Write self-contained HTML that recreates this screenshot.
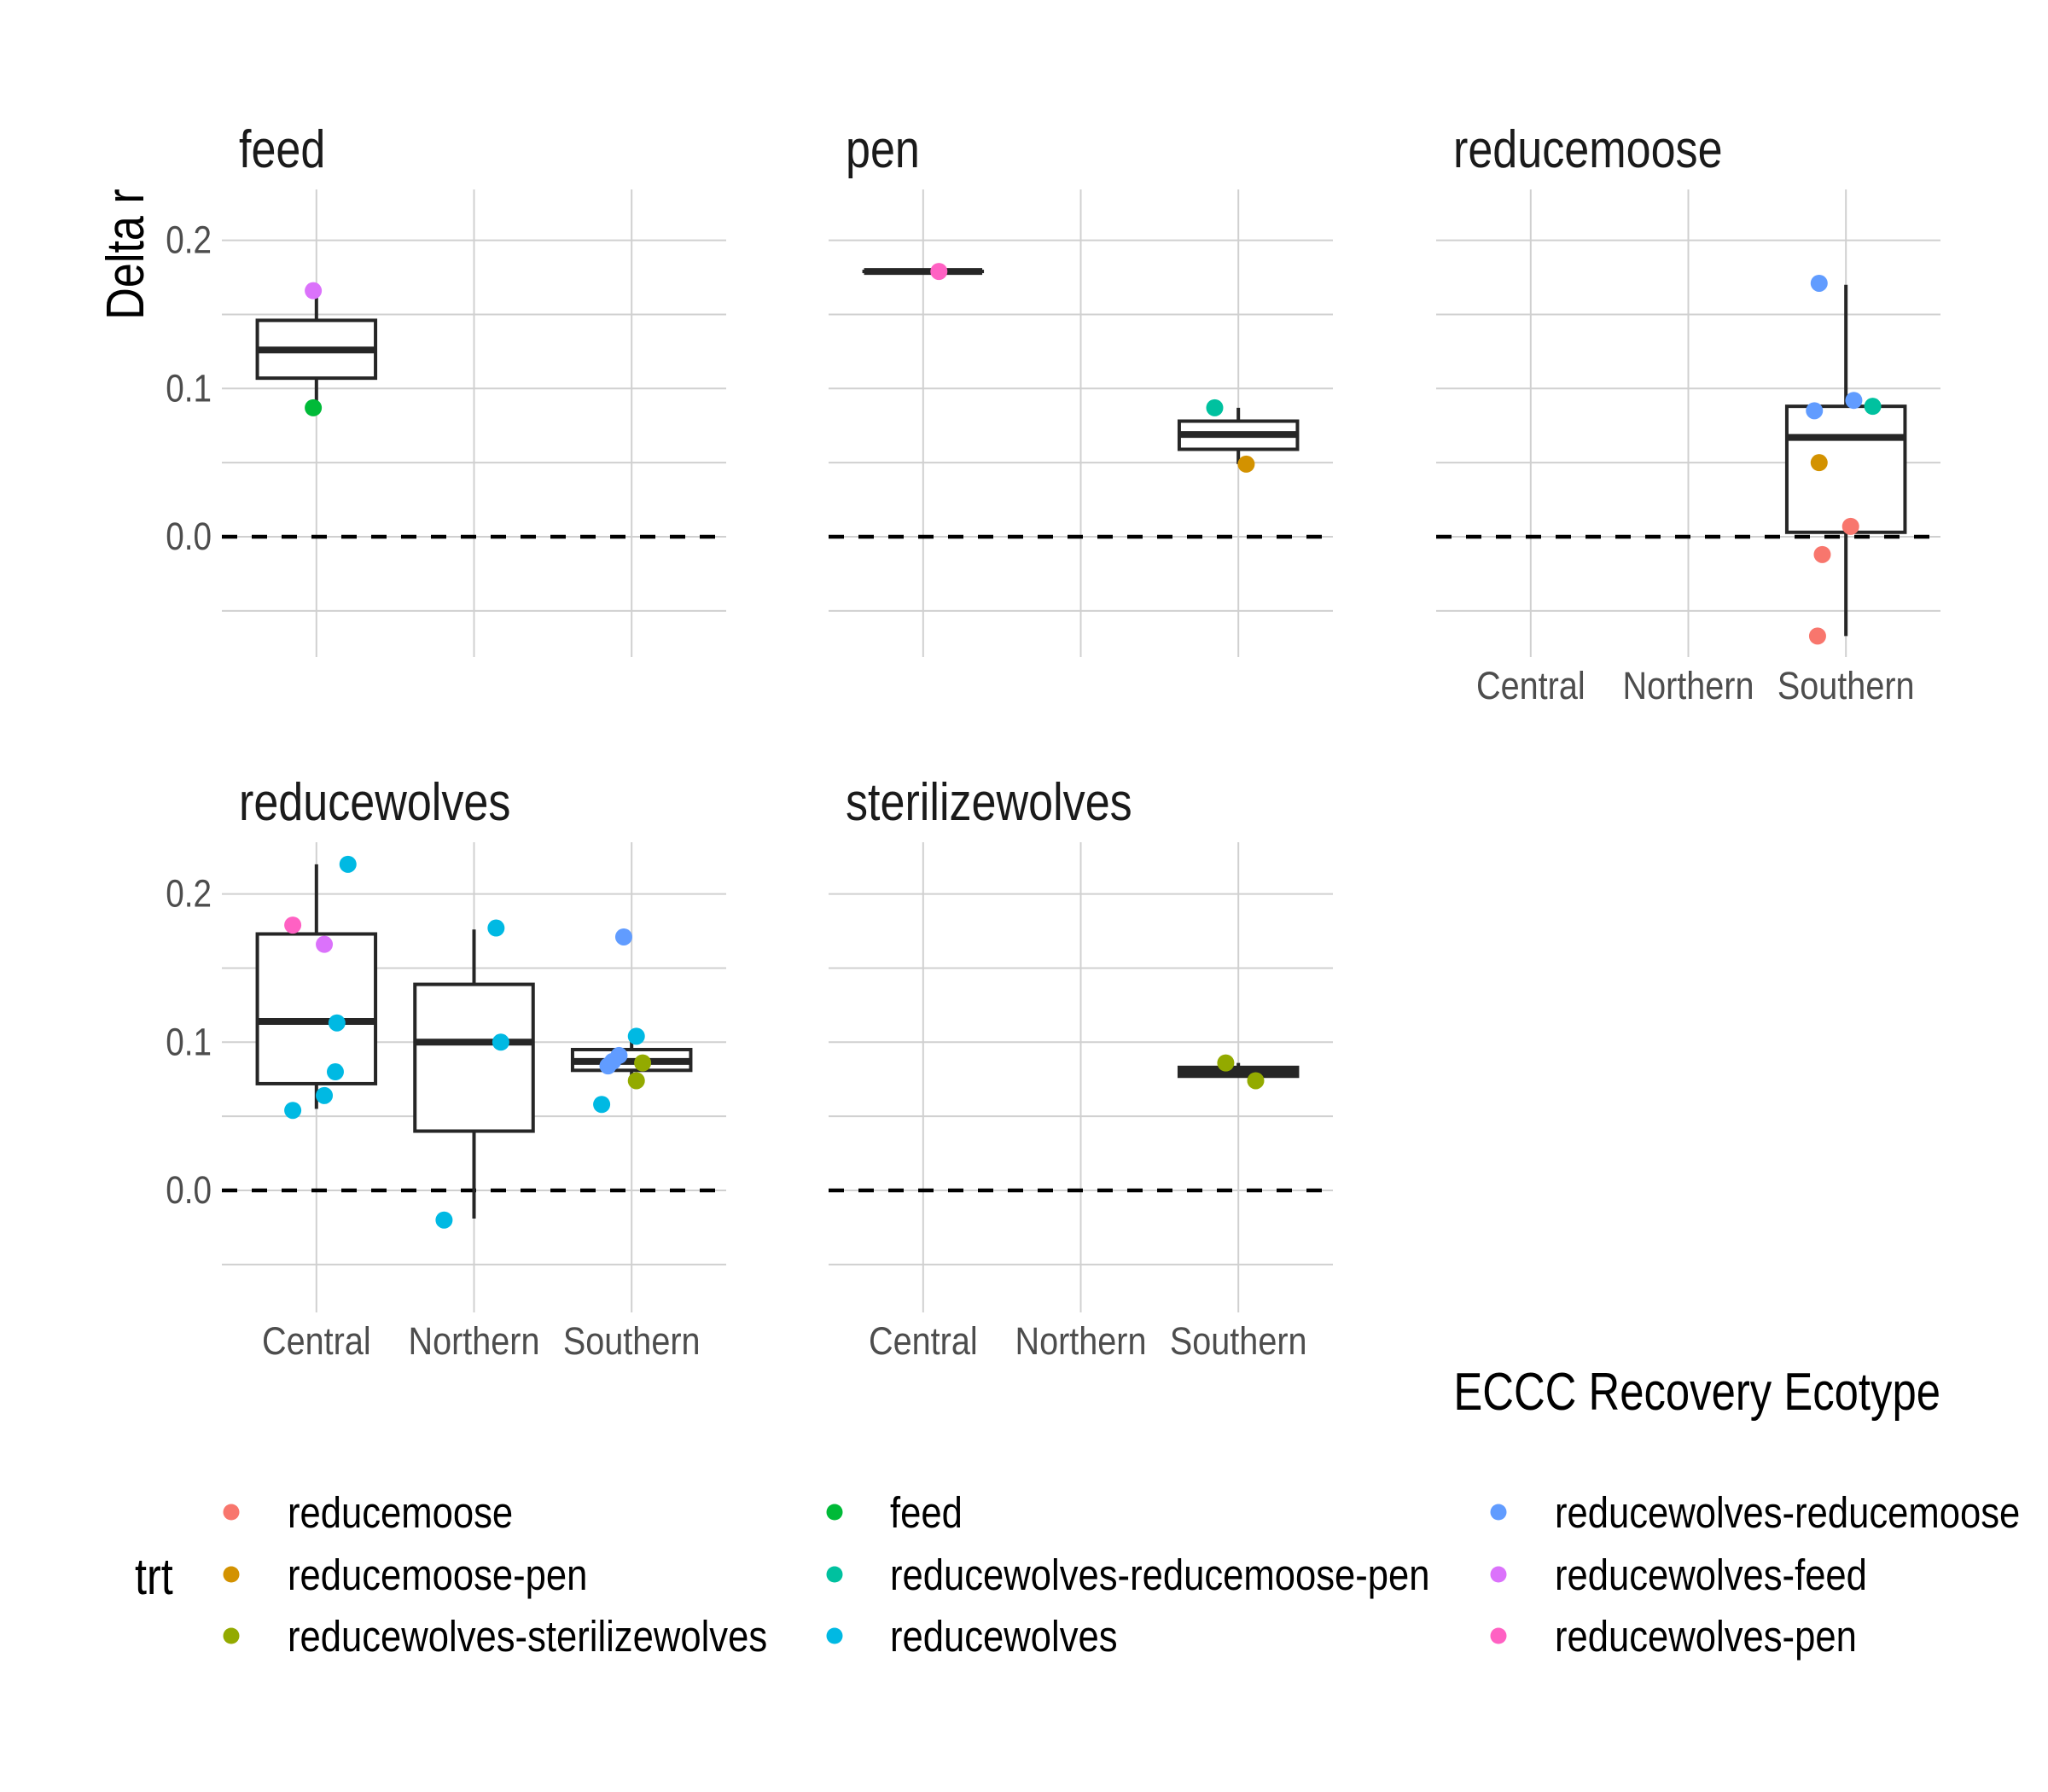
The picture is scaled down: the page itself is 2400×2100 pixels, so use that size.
<!DOCTYPE html>
<html><head><meta charset="utf-8">
<style>
html,body{margin:0;padding:0;background:#fff;}
svg{display:block;font-family:"Liberation Sans Narrow","Liberation Sans",sans-serif;}
</style></head>
<body>
<svg id="chart" width="2400" height="2100" viewBox="0 0 2400 2100" xmlns="http://www.w3.org/2000/svg">
<rect width="2400" height="2100" fill="#fff"/>
</svg>
<script>
// ---- data ----
const categories = ["Central","Northern","Southern"];
const panels = ["feed","pen","reducemoose","reducewolves","sterilizewolves"];
const yTicks = [0.0,0.1,0.2];
const yTickLabels = ["0.0","0.1","0.2"];
const treatments = ["reducemoose","reducemoose-pen","reducewolves-sterilizewolves","feed","reducewolves-reducemoose-pen","reducewolves","reducewolves-reducemoose","reducewolves-feed","reducewolves-pen"];
const trtColors = ["#F8766D","#D39200","#93AA00","#00BA38","#00C19F","#00B9E3","#619CFF","#DB72FB","#FF61C3"];
// boxes
const boxPanel = ["feed","pen","pen","reducemoose","reducewolves","reducewolves","reducewolves","sterilizewolves"];
const boxCat = ["Central","Central","Southern","Southern","Central","Northern","Southern","Southern"];
const boxLow = [0.087,0.179,0.049,-0.067,0.055,-0.019,0.074,0.076];
const boxQ1 = [0.107,0.179,0.059,0.003,0.072,0.040,0.081,0.077];
const boxMed = [0.126,0.179,0.069,0.067,0.114,0.100,0.087,0.080];
const boxQ3 = [0.146,0.179,0.078,0.088,0.173,0.139,0.095,0.083];
const boxHigh = [0.166,0.179,0.087,0.170,0.220,0.176,0.104,0.086];
// points
const ptPanel = ["feed","feed","pen","pen","pen",
 "reducemoose","reducemoose","reducemoose","reducemoose","reducemoose","reducemoose","reducemoose","reducemoose",
 "reducewolves","reducewolves","reducewolves","reducewolves","reducewolves","reducewolves","reducewolves",
 "reducewolves","reducewolves","reducewolves",
 "reducewolves","reducewolves","reducewolves","reducewolves","reducewolves","reducewolves","reducewolves","reducewolves",
 "sterilizewolves","sterilizewolves"];
const ptCat = ["Central","Central","Central","Southern","Southern",
 "Southern","Southern","Southern","Southern","Southern","Southern","Southern","Southern",
 "Central","Central","Central","Central","Central","Central","Central",
 "Northern","Northern","Northern",
 "Southern","Southern","Southern","Southern","Southern","Southern","Southern","Southern",
 "Southern","Southern"];
const ptJitter = [-0.02,-0.02,0.1,-0.15,0.05,
 -0.17,-0.2,0.05,0.17,-0.17,0.03,-0.15,-0.18,
 -0.15,0.05,0.2,0.13,0.12,0.05,-0.15,
 0.14,0.17,-0.19,
 -0.05,0.03,-0.15,-0.12,-0.08,-0.19,0.07,0.03,
 -0.08,0.11];
const ptValue = [0.166,0.087,0.179,0.087,0.049,
 0.171,0.085,0.092,0.088,0.050,0.007,-0.012,-0.067,
 0.179,0.166,0.220,0.113,0.080,0.064,0.054,
 0.177,0.100,-0.020,
 0.171,0.104,0.084,0.087,0.091,0.058,0.086,0.074,
 0.086,0.074];
const ptTrt = ["reducewolves-feed","feed","reducewolves-pen","reducewolves-reducemoose-pen","reducemoose-pen",
 "reducewolves-reducemoose","reducewolves-reducemoose","reducewolves-reducemoose","reducewolves-reducemoose-pen","reducemoose-pen","reducemoose","reducemoose","reducemoose",
 "reducewolves-pen","reducewolves-feed","reducewolves","reducewolves","reducewolves","reducewolves","reducewolves",
 "reducewolves","reducewolves","reducewolves",
 "reducewolves-reducemoose","reducewolves","reducewolves-reducemoose","reducewolves-reducemoose","reducewolves-reducemoose","reducewolves","reducewolves-sterilizewolves","reducewolves-sterilizewolves",
 "reducewolves-sterilizewolves","reducewolves-sterilizewolves"];

// ---- layout ----
const NS="http://www.w3.org/2000/svg";
const svg=document.getElementById('chart');
function mk(tag,attrs,parent){const e=document.createElementNS(NS,tag);for(const k in attrs)e.setAttribute(k,attrs[k]);(parent||svg).appendChild(e);return e;}
function ctext(x,y,size,fill,anchor,str,parent,rot,sx){
  const tr='translate('+x+','+y+')'+(rot?' rotate('+rot+')':'')+' scale('+(sx||0.84)+',1)';
  const t=mk('text',{x:0,y:0,'font-size':size,fill:fill,'text-anchor':anchor,transform:tr},parent);
  t.textContent=str;return t;
}
const panelLeft=[260,971,1683], panelW=591;
const rowTop=[222,987], rowBottom=[770,1538], rowZero=[629,1395];
const pxPer=1737;
const layout={feed:[0,0],pen:[0,1],reducemoose:[0,2],reducewolves:[1,0],sterilizewolves:[1,1]};
function xScale(col,cat,j){const i=categories.indexOf(cat);return panelLeft[col]+(i+1+(j||0)-0.4)*panelW/3.2;}
function yScale(row,v){return rowZero[row]-v*pxPer;}

panels.forEach(p=>{
  const [row,col]=layout[p];
  const g=mk('g',{});
  
  
  const x0=panelLeft[col], x1=x0+panelW;
  for(let v=-0.05;v<=0.2001;v+=0.05){
    const y=yScale(row,v);
    const l=mk('line',{x1:x0,x2:x1,y1:y,y2:y,stroke:'#d0d0d0','stroke-width':2},g);
    
    
  }
  categories.forEach(c=>{
    const x=xScale(col,c,0);
    const l=mk('line',{x1:x,x2:x,y1:rowTop[row],y2:rowBottom[row],stroke:'#d0d0d0','stroke-width':2},g);
    
    
  });
  const z=mk('line',{x1:x0,x2:x1,y1:yScale(row,0),y2:yScale(row,0),stroke:'#000','stroke-width':4.5,'stroke-dasharray':'18 17'},g);
  
  
  const t=ctext(x0+20,rowTop[row]-26,62,'#1a1a1a','start',p,g);
  
  
  if(col===0){
    yTicks.forEach((v,i)=>{
      const tt=ctext(248,yScale(row,v)+15,45,'#4d4d4d','end',yTickLabels[i],g,0,0.86);
      
      
    });
  }
  if(row===1||p==='reducemoose'){
    categories.forEach(c=>{
      const tt=ctext(xScale(col,c,0),rowBottom[row]+49,45,'#4d4d4d','middle',c,g,0,0.88);
      
      
    });
  }
});

boxPanel.forEach((p,i)=>{
  const [row,col]=layout[p];
  const cx=xScale(col,boxCat[i],0), hw=0.375*panelW/3.2;
  const g=mk('g',{});
  
  
  const yq1=yScale(row,boxQ1[i]), yq3=yScale(row,boxQ3[i]);
  mk('line',{x1:cx,x2:cx,y1:yScale(row,boxHigh[i]),y2:yq3,stroke:'#262626','stroke-width':4},g);
  mk('line',{x1:cx,x2:cx,y1:yq1,y2:yScale(row,boxLow[i]),stroke:'#262626','stroke-width':4},g);
  mk('rect',{x:cx-hw,y:yq3,width:2*hw,height:Math.max(yq1-yq3,0.01),fill:'#fff',stroke:'#262626','stroke-width':4},g);
  const ym=yScale(row,boxMed[i]);
  mk('line',{x1:cx-hw,x2:cx+hw,y1:ym,y2:ym,stroke:'#262626','stroke-width':8},g);
});

ptPanel.forEach((p,i)=>{
  const [row,col]=layout[p];
  const c=mk('circle',{cx:xScale(col,ptCat[i],ptJitter[i]),cy:yScale(row,ptValue[i]),r:10,fill:trtColors[treatments.indexOf(ptTrt[i])]});
  
  
});

const yt=ctext(168,298,62,'#000','middle','Delta r',null,-90);


const xt=ctext(2274,1652,62,'#000','end','ECCC Recovery Ecotype',null,0,0.82);



const lg=mk('g',{});


const lt=ctext(158,1868,60,'#000','start','trt',lg);


const colDot=[271,978,1756], colText=[337,1043,1822], rowY=[1772,1845,1917];
treatments.forEach((t,i)=>{
  const c=Math.floor(i/3), r=i%3;
  const e=mk('g',{},lg);
  
  
  mk('circle',{cx:colDot[c],cy:rowY[r],r:9.5,fill:trtColors[i]},e);
  ctext(colText[c],rowY[r]+18,51,'#000','start',t,e,0,0.855);
});
</script>
</body></html>
